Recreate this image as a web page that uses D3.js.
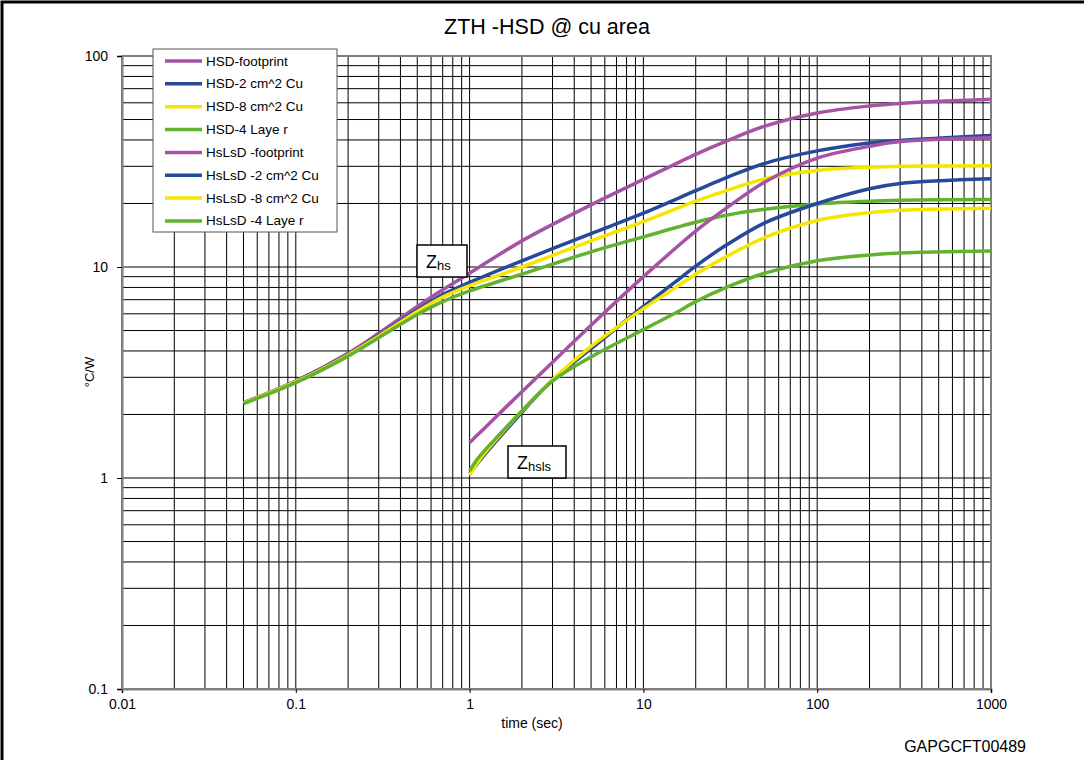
<!DOCTYPE html>
<html><head><meta charset="utf-8">
<script src="https://cdn.jsdelivr.net/npm/d3@7"></script>
<style>
html,body{margin:0;padding:0;background:#fff;}
svg{display:block;}
text{font-family:"Liberation Sans",Arial,Helvetica,sans-serif;}
</style></head>
<body>
<svg id="chart" width="1084" height="760"></svg>
<script>
// ---- data ----
const seriesNames = ["HSD-footprint","HSD-2 cm^2 Cu","HSD-8 cm^2 Cu","HSD-4 Laye r",
                     "HsLsD -footprint","HsLsD -2 cm^2 Cu","HsLsD -8 cm^2 Cu","HsLsD -4 Laye r"];
const seriesColors = ["#a653a6","#27499c","#f5e600","#62b22f","#a653a6","#27499c","#f5e600","#62b22f"];

const timeHSD = [0.05,0.1,0.2,0.3,0.5,0.7,1,2,5,10,20,30,50,100,200,300,1000];
const hsdFootprint = [2.27,2.88,3.90,4.85,6.50,7.80,9.35,13.3,19.7,26.0,34.2,39.5,46.5,53.7,58.0,59.6,62.3];
const hsd2cm       = [2.27,2.87,3.85,4.75,6.25,7.40,8.45,10.7,14.4,18.0,23.0,26.5,31.0,35.5,38.7,39.8,42.0];
const hsd8cm       = [2.27,2.86,3.83,4.70,6.15,7.20,8.15,10.0,13.3,16.4,20.5,23.0,26.2,28.7,29.7,30.0,30.2];
const hsd4layer    = [2.25,2.83,3.78,4.62,5.95,6.85,7.70,9.25,11.8,13.9,16.3,17.6,18.8,19.9,20.5,20.7,20.9];

const timeHsLsD = [1,1.1,1.2,1.5,2,3,5,10,15,20,30,50,100,200,300,1000];
const hslsdFootprint = [1.47,1.59,1.70,2.04,2.56,3.54,5.30,9.00,12.1,14.8,19.0,25.3,32.8,37.3,39.3,41.0];
const hslsd2cm       = [1.05,1.16,1.27,1.57,2.05,2.92,4.10,6.50,8.40,10.1,12.7,16.2,20.0,23.5,24.9,26.2];
const hslsd8cm       = [1.03,1.17,1.29,1.60,2.08,2.92,4.20,6.35,7.90,9.25,11.2,13.8,16.6,18.1,18.6,19.0];
const hslsd4layer    = [1.08,1.22,1.33,1.62,2.08,2.88,3.75,5.05,6.00,6.85,8.00,9.35,10.7,11.4,11.65,11.9];

const xTickValues = [0.01,0.1,1,10,100,1000];
const xTickLabels = ["0.01","0.1","1","10","100","1000"];
const yTickValues = [0.1,1,10,100];
const yTickLabels = ["0.1","1","10","100"];

const titleText = "ZTH -HSD @ cu area";
const xAxisTitle = "time (sec)";
const yAxisTitle = "°C/W";
const codeText = "GAPGCFT00489";

// ---- layout ----
const svg = d3.select("#chart");
const L = 122, R = 991, T = 56, B = 689;
const x = d3.scaleLog().domain([0.01,1000]).range([L,R]);
const y = d3.scaleLog().domain([0.1,100]).range([B,T]);

// outer frame
svg.append("rect").attr("x",2).attr("y",2).attr("width",1100).attr("height",800)
  .attr("fill","none").attr("stroke","#000").attr("stroke-width",3);

// grid
const gx = [], gy = [];
for (let d=-2; d<3; d++) for (let m=1; m<10; m++) gx.push(m*Math.pow(10,d));
gx.push(1000);
for (let d=-1; d<2; d++) for (let m=1; m<10; m++) gy.push(m*Math.pow(10,d));
gy.push(100);
const grid = svg.append("g");
grid.selectAll("line.v").data(gx).join("line").attr("class","v")
  .attr("x1",d=>x(d)).attr("x2",d=>x(d)).attr("y1",T).attr("y2",B)
  .attr("stroke","#000").attr("stroke-width",1);
grid.selectAll("line.h").data(gy).join("line").attr("class","h")
  .attr("y1",d=>y(d)).attr("y2",d=>y(d)).attr("x1",L).attr("x2",R)
  .attr("stroke","#000").attr("stroke-width",1);

// plot border
svg.append("rect").attr("x",L).attr("y",T).attr("width",R-L).attr("height",B-T)
  .attr("fill","none").attr("stroke","#808080").attr("stroke-width",2);

// axes
const xAxis = d3.axisBottom(x).tickValues(xTickValues)
  .tickFormat((d,i)=>xTickLabels[i]).tickSize(4).tickPadding(6);
const gxAxis = svg.append("g").attr("transform",`translate(0,${B})`).call(xAxis);
gxAxis.select(".domain").attr("stroke","#808080").attr("stroke-width",2);
gxAxis.selectAll("text").attr("font-size",14).attr("fill","#000")
  .style("font-family","'Liberation Sans',Arial,sans-serif");

const yAxis = d3.axisLeft(y).tickValues(yTickValues)
  .tickFormat((d,i)=>yTickLabels[i]).tickSize(5).tickPadding(9);
const gyAxis = svg.append("g").attr("transform",`translate(${L},0)`).call(yAxis);
gyAxis.select(".domain").attr("stroke","#808080").attr("stroke-width",2);
gyAxis.selectAll("text").attr("font-size",14).attr("fill","#000")
  .style("font-family","'Liberation Sans',Arial,sans-serif");

// titles
svg.append("text").attr("x",547).attr("y",34).attr("text-anchor","middle")
  .attr("font-size",21.5).text(titleText);
svg.append("text").attr("x",532).attr("y",728).attr("text-anchor","middle")
  .attr("font-size",14).text(xAxisTitle);
svg.append("text").attr("transform","translate(94,372) rotate(-90)")
  .attr("text-anchor","middle").attr("font-size",13).text(yAxisTitle);
svg.append("text").attr("x",1026).attr("y",752).attr("text-anchor","end")
  .attr("font-size",16).text(codeText);

// lines
const seriesData = [
  [timeHSD,hsdFootprint],[timeHSD,hsd2cm],[timeHSD,hsd8cm],[timeHSD,hsd4layer],
  [timeHsLsD,hslsdFootprint],[timeHsLsD,hslsd2cm],[timeHsLsD,hslsd8cm],[timeHsLsD,hslsd4layer]
];
const line = d3.line().x(d=>x(d[0])).y(d=>y(d[1])).curve(d3.curveCatmullRom.alpha(0.5));
seriesData.forEach((s,i)=>{
  const pts = s[0].map((t,j)=>[t,s[1][j]]);
  svg.append("path").datum(pts).attr("d",line).attr("fill","none")
    .attr("stroke",seriesColors[i]).attr("stroke-width",3.5).attr("stroke-linejoin","round");
});

// annotation boxes
function label(x0,y0,w,h,main,sub){
  svg.append("rect").attr("x",x0).attr("y",y0).attr("width",w).attr("height",h)
    .attr("fill","#fff").attr("stroke","#000").attr("stroke-width",1.5);
  const t = svg.append("text").attr("x",x0+9).attr("y",y0+h-9).attr("font-size",18);
  t.append("tspan").text(main);
  t.append("tspan").attr("font-size",13).attr("dy",2).text(sub);
}
label(417,245,50,32,"Z","hs");
label(508,446,58,32,"Z","hsls");

// legend
const lg = svg.append("g");
lg.append("rect").attr("x",153).attr("y",49).attr("width",184).attr("height",183)
  .attr("fill","#fff").attr("stroke","#555").attr("stroke-width",1);
seriesNames.forEach((n,i)=>{
  const yy = 61 + i*22.85;
  lg.append("line").attr("x1",165).attr("x2",202).attr("y1",yy).attr("y2",yy)
    .attr("stroke",seriesColors[i]).attr("stroke-width",3.5);
  lg.append("text").attr("x",206).attr("y",yy+4.5).attr("font-size",13.5).text(n);
});
</script>
</body></html>
